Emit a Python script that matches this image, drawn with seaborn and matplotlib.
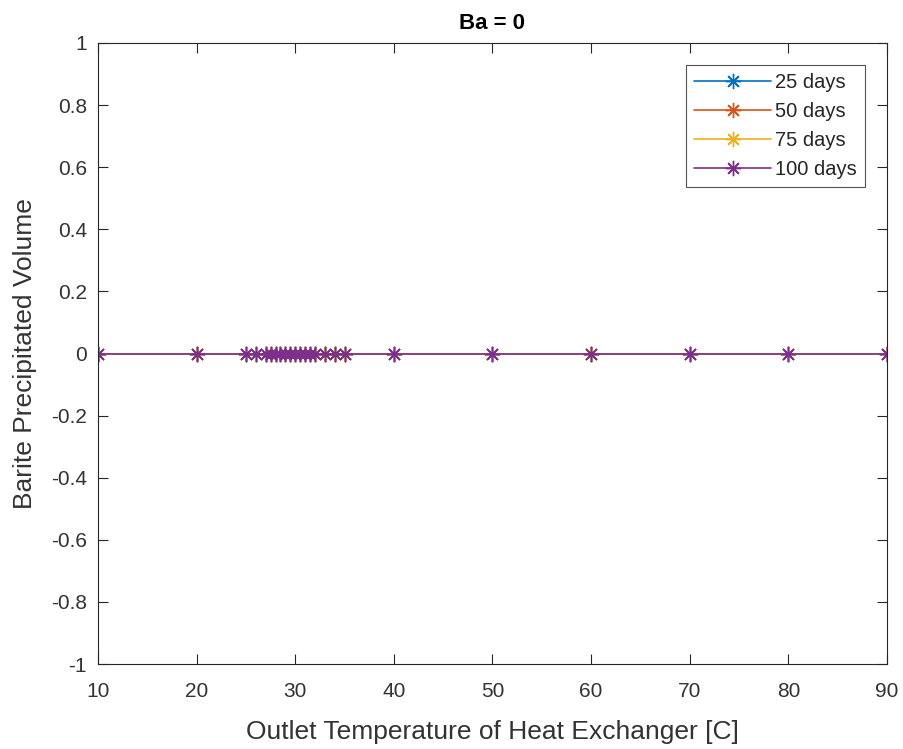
import matplotlib
matplotlib.use("Agg")
import matplotlib.pyplot as plt
import seaborn as sns
import pandas as pd
import numpy as np

temps = [10, 20, 25, 26, 27, 27.5, 28, 28.5, 29, 29.5, 30, 30.5, 31, 31.5, 32, 33, 34, 35, 40, 50, 60, 70, 80, 90]
series_names = ["25 days", "50 days", "75 days", "100 days"]
vol_25 = [0.0] * len(temps)
vol_50 = [0.0] * len(temps)
vol_75 = [0.0] * len(temps)
vol_100 = [0.0] * len(temps)
colors = ["#0072BD", "#D95319", "#EDB120", "#7E2F8E"]
x_ticks = [10, 20, 30, 40, 50, 60, 70, 80, 90]
y_ticks = [-1, -0.8, -0.6, -0.4, -0.2, 0, 0.2, 0.4, 0.6, 0.8, 1]
y_ticklabels = ["-1", "-0.8", "-0.6", "-0.4", "-0.2", "0", "0.2", "0.4", "0.6", "0.8", "1"]

rows = []
for name, vals in zip(series_names, [vol_25, vol_50, vol_75, vol_100]):
    for t, v in zip(temps, vals):
        rows.append({"T": t, "V": v, "series": name})
df = pd.DataFrame(rows)

sns.set_style("white")
plt.rcParams['font.family'] = ['Liberation Sans', 'DejaVu Sans']

star = (8, 2, 0)
fig = plt.figure(figsize=(9.04, 7.49), dpi=100)
ax = fig.add_axes([98/904, 1 - 664/749, (887-98)/904, (664-43)/749])
sns.lineplot(data=df, x="T", y="V", hue="series", palette=colors, marker="o",
             linewidth=1.2, ax=ax, estimator=None)
for line in ax.lines:
    line.set_marker(star)
    line.set_markersize(11)
    line.set_markeredgewidth(1.0)
    line.set_markeredgecolor(line.get_color())

ax.set_xlim(10, 90)
ax.set_ylim(-1, 1)
ax.set_xticks(x_ticks)
ax.set_yticks(y_ticks)
ax.set_yticklabels(y_ticklabels)
ax.tick_params(direction="in", top=True, right=True, bottom=True, left=True,
               length=7, width=0.8, labelsize=15, colors="#262626", labelcolor="#333333")
ax.tick_params(axis="x", pad=13)
ax.tick_params(axis="y", pad=8)
for s in ax.spines.values():
    s.set_color("#262626")
    s.set_linewidth(0.8)
ax.set_xlabel("Outlet Temperature of Heat Exchanger [C]", fontsize=19, color="#333333", labelpad=14)
ax.set_ylabel("Barite Precipitated Volume", fontsize=19, color="#333333", labelpad=10)
ax.set_title("Ba = 0", fontsize=16, fontweight="bold", color="black", pad=10)

leg = ax.legend(loc="upper right", fontsize=14.5, frameon=True, fancybox=False,
                edgecolor="#262626", handlelength=3.8, handletextpad=0.2,
                borderaxespad=1.1, labelspacing=0.5, borderpad=0.4)
leg.get_frame().set_linewidth(0.8)
for h in leg.legend_handles:
    h.set_marker(star)
    h.set_markersize(11)
    h.set_markeredgewidth(1.0)
    h.set_markeredgecolor(h.get_color())
    h.set_linewidth(1.2)

fig.savefig("out.png", dpi=100)
